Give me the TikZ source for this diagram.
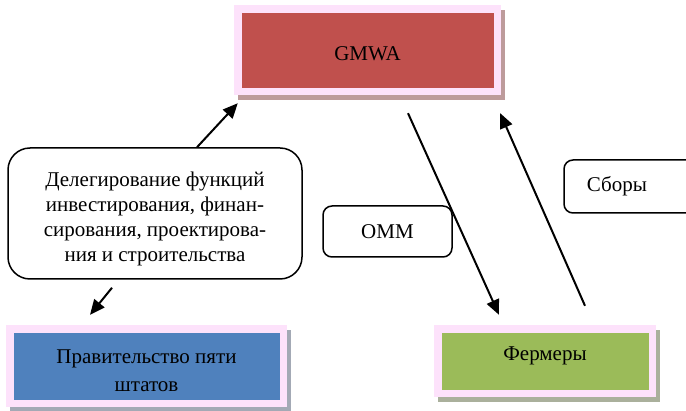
\documentclass[tikz,border=0pt]{standalone}
\usepackage{fontspec}
\setmainfont{Liberation Serif}
\usetikzlibrary{arrows.meta,shadows,calc}
\definecolor{pinkc}{HTML}{FDE2FB}
\definecolor{redc}{HTML}{C0504D}
\definecolor{bluec}{HTML}{4F81BD}
\definecolor{greenc}{HTML}{9BBB59}
\definecolor{redsh}{HTML}{BD9B9B}
\definecolor{bluesh}{HTML}{A3A9B5}
\definecolor{greensh}{HTML}{AAB09C}
\tikzset{
  framebox/.style 2 args={rectangle, fill=pinkc, inner sep=0pt, align=center,
    drop shadow={shadow xshift=4pt, shadow yshift=-5pt, fill=#2, opacity=1},
    path picture={\fill[#1] ([shift={(8pt,-8pt)}]path picture bounding box.north west) rectangle ([shift={(-7pt,7pt)}]path picture bounding box.south east);}},
  roundbox/.style={draw, line width=1.5pt, rounded corners=#1, fill=white, align=center, inner sep=0pt},
  conn/.style={line width=2pt, -{Triangle[length=15pt,width=13pt]}},
  txt/.style={font=\fontsize{21}{25}\selectfont}
}
\begin{document}
\begin{tikzpicture}[x=1pt,y=-1pt]
\useasboundingbox (0,0) rectangle (686,411);
\begin{scope}
\clip (0,0) rectangle (686,411);
\node[framebox={redc}{redsh}, minimum width=267pt, minimum height=90pt] (gmwa) at (367.5,50) {};
\node[txt] (gmwatxt) at (367.5,54) {GMWA};
\node[framebox={bluec}{bluesh}, minimum width=281pt, minimum height=82pt] (gov) at (146.5,366) {};
\node[txt, font=\fontsize{21}{28}\selectfont, align=center] (govtxt) at (146.5,371) {Правительство пяти\\штатов};
\node[framebox={greenc}{greensh}, minimum width=222pt, minimum height=72pt] (farm) at (545,361) {};
\node[txt] (farmtxt) at (545,356) {Фермеры};
\node[roundbox=22pt, minimum width=294pt, minimum height=131pt] (deleg) at (155,213.5) {};
\node[txt, align=center] (delegtxt) at (155,219) {Делегирование функций\\инвестирования, финан-\\сирования, проектирова-\\ния и строительства};
\node[roundbox=9pt, minimum width=129pt, minimum height=51pt, txt] (omm) at (387.5,231.5) {ОММ};
\node[roundbox=9pt, minimum width=150pt, minimum height=53pt] (fees) at (639,186.5) {};
\node[txt] (feestxt) at (617,186) {Сборы};
\end{scope}
\draw[conn] ([xshift=42pt]deleg.north) -- ([shift={(4pt,-8pt)}]gmwa.south west);
\draw[conn] ([shift={(-43pt,-8pt)}]deleg.south) -- ([shift={(-56.5pt,10pt)}]gov.north);
\draw[conn] ([shift={(40.5pt,-18pt)}]gmwa.south) -- ([shift={(-46pt,10pt)}]farm.north);
\draw[conn] ([shift={(40pt,19pt)}]farm.north) -- ([shift={(-1pt,-18pt)}]gmwa.south east);
\end{tikzpicture}
\end{document}
